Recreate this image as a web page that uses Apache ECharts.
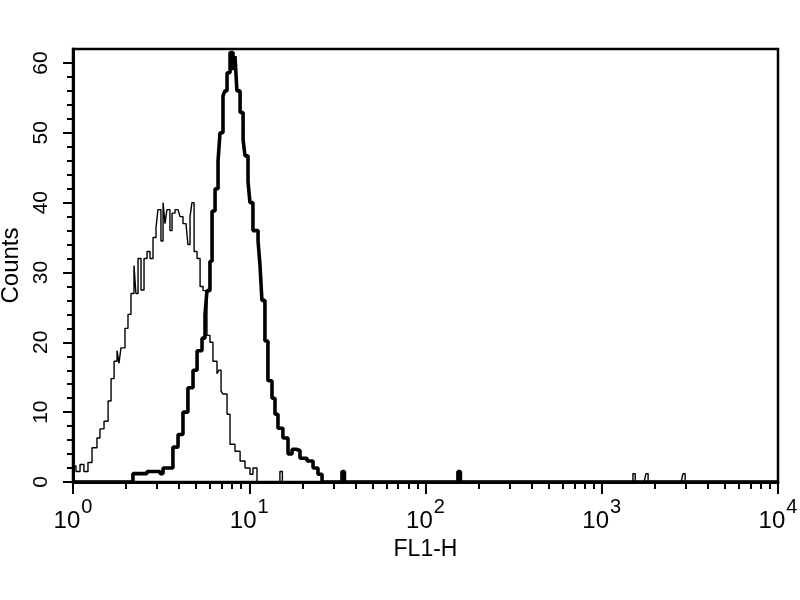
<!DOCTYPE html>
<html>
<head>
<meta charset="utf-8">
<script src="https://cdn.jsdelivr.net/npm/echarts@6/dist/echarts.min.js"></script>
<style>html,body{margin:0;padding:0;background:#fff}#c{width:800px;height:600px}</style>
</head>
<body>
<div id="c"></div>
<script>
// x values are log10(FL1-H), y values are counts
const controlLog = [0.000,0.017,0.040,0.062,0.085,0.108,0.136,0.153,0.176,0.199,0.216,0.233,0.250,0.261,0.272,0.295,0.312,0.329,0.346,0.357,0.369,0.386,0.403,0.420,0.437,0.454,0.471,0.482,0.499,0.511,0.522,0.533,0.550,0.562,0.579,0.596,0.607,0.624,0.641,0.652,0.664,0.675,0.687,0.704,0.721,0.738,0.760,0.777,0.794,0.817,0.828,0.840,0.851,0.874,0.891,0.919,0.948,0.976,1.004,1.021,1.044,1.160,1.174,1.188,3.165,3.177,3.190,3.240,3.251,3.263,3.450,3.461,3.473,4.000];
const controlCounts = [2.3,1.5,2.5,1.5,2.8,4.9,6.3,7.6,8.7,11.6,14.8,17.3,18.8,17,19.2,22,24,27,31,27,32,27.5,32,33,32,35,36.4,39,34.5,40,37,39,36,38.5,39,39,38,37,37,34,38,40,33,32,28,27.4,21,20,17.3,15.5,16,13,12.6,9.7,5.4,4.4,3,2,1.1,2,0,0,1.5,0,0,1.2,0,0,1.2,0,0,1.2,0,0];
const stainedLog = [0.000,0.323,0.340,0.420,0.494,0.511,0.550,0.567,0.596,0.624,0.652,0.681,0.704,0.732,0.749,0.760,0.777,0.789,0.806,0.823,0.834,0.851,0.862,0.874,0.891,0.908,0.919,0.930,0.948,0.965,0.976,0.993,1.004,1.021,1.050,1.061,1.072,1.089,1.106,1.129,1.146,1.163,1.191,1.220,1.243,1.265,1.288,1.328,1.362,1.390,1.413,1.512,1.526,1.540,2.170,2.184,2.198,4.000];
const stainedCounts = [0,0,1.2,1.5,1.2,2,2,5,6.8,10,13.5,16,18.8,20.6,24,27.4,31.6,38.8,42,46,50,55.3,56,58.6,61.5,59,61,56,52.9,49,46.7,43,40,36,34.5,31,26,20.2,14.5,12,9.7,7.7,6.3,4,4.7,4.5,3.4,3,2,1.1,0,0,1.5,0,0,1.5,0,0];
const xMajorTicks = [0,1,2,3,4];
const yMajorTicks = [0,10,20,30,40,50,60];
const yMinorTicks = [2,4,6,8,12,14,16,18,22,24,26,28,32,34,36,38,42,44,46,48,52,54,56,58];
const xMinorMultipliers = [2,3,4,5,6,7,8,9];
const yMax = 62;

const xMinorTicks = [];
for (let d = 0; d < 4; d++) xMinorMultipliers.forEach(m => xMinorTicks.push(d + Math.log10(m)));

const zip = (a, b) => a.map((v, i) => [v, b[i]]);
const font = '"Liberation Sans", Arial, sans-serif';
const narrow = '"Liberation Sans Narrow", "Liberation Sans", Arial, sans-serif';
const gridPos = { left: 73, right: 22, top: 49, bottom: 118, outerBoundsMode: 'none', containLabel: false };

const chart = echarts.init(document.getElementById('c'), null, { renderer: 'canvas' });
chart.setOption({
  backgroundColor: '#fff',
  animation: false,
  grid: [
    Object.assign({ show: true, borderColor: '#000', borderWidth: 2.5, backgroundColor: '#fff' }, gridPos),
    Object.assign({ show: false }, gridPos)
  ],
  xAxis: [
    {
      type: 'value', gridIndex: 0, min: 0, max: 4, position: 'bottom',
      axisLine: { show: true, lineStyle: { color: '#000', width: 3 } },
      axisTick: { show: true, customValues: xMajorTicks, length: 12, lineStyle: { color: '#000', width: 2 } },
      axisLabel: {
        customValues: xMajorTicks, margin: 21,
        formatter: v => '{a|10}{b|' + v + '}',
        rich: {
          a: { fontFamily: narrow, fontSize: 24, color: '#000', lineHeight: 24, padding: [12, 0, 0, 0] },
          b: { fontFamily: narrow, fontSize: 20, color: '#000', lineHeight: 20, padding: [0, 0, 16, 1] }
        }
      },
      splitLine: { show: false },
      name: 'FL1-H', nameLocation: 'middle', nameGap: 46,
      nameTextStyle: { fontFamily: font, fontSize: 23, color: '#000' }
    },
    {
      type: 'value', gridIndex: 1, min: 0, max: 4, position: 'bottom',
      axisLine: { show: false },
      axisTick: { show: true, customValues: xMinorTicks, length: 7, lineStyle: { color: '#000', width: 2 } },
      axisLabel: { show: false },
      splitLine: { show: false }
    }
  ],
  yAxis: [
    {
      type: 'value', gridIndex: 0, min: 0, max: yMax, position: 'left',
      axisLine: { show: true, lineStyle: { color: '#000', width: 3 } },
      axisTick: { show: true, customValues: yMajorTicks, length: 10, lineStyle: { color: '#000', width: 2 } },
      axisLabel: {
        customValues: yMajorTicks, rotate: 90, margin: 21,
        fontFamily: narrow, fontSize: 21, color: '#000'
      },
      splitLine: { show: false },
      name: 'Counts', nameLocation: 'middle', nameRotate: 90, nameGap: 45,
      nameTextStyle: { fontFamily: font, fontSize: 24, color: '#000' }
    },
    {
      type: 'value', gridIndex: 1, min: 0, max: yMax, position: 'left',
      axisLine: { show: false },
      axisTick: { show: true, customValues: yMinorTicks, length: 6, lineStyle: { color: '#000', width: 2 } },
      axisLabel: { show: false },
      splitLine: { show: false }
    }
  ],
  series: [
    {
      type: 'line', xAxisIndex: 0, yAxisIndex: 0, step: 'end', symbol: 'none',
      data: zip(controlLog, controlCounts),
      lineStyle: { color: '#000', width: 1.4 }
    },
    {
      type: 'line', xAxisIndex: 0, yAxisIndex: 0, step: 'end', symbol: 'none',
      data: zip(stainedLog, stainedCounts),
      lineStyle: { color: '#000', width: 3.6 }
    }
  ]
});
</script>
</body>
</html>
